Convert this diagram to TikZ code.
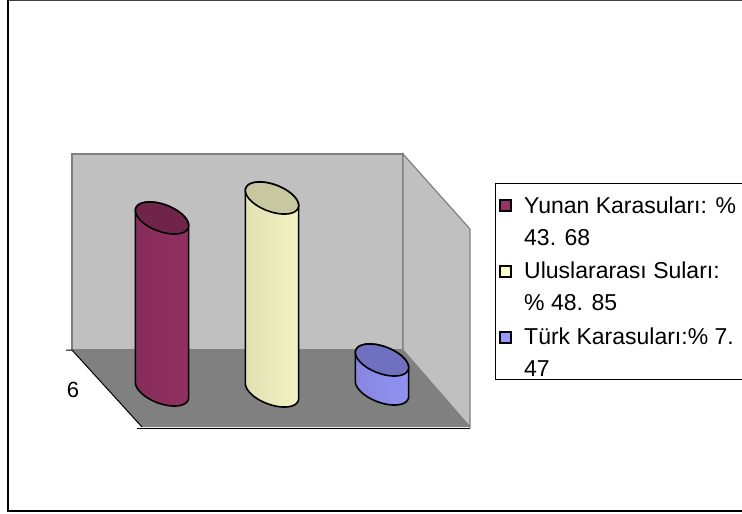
\documentclass[tikz,border=0pt]{standalone}
\usepackage{fontspec}
\setmainfont{Liberation Sans}
\usepackage{xcolor}
\usepackage{tikz}
\usetikzlibrary{arrows,shapes}

\definecolor{yunan}{RGB}{153,51,102}
\definecolor{yunanT}{RGB}{112,36,74}
\definecolor{ulus}{RGB}{255,255,204}
\definecolor{ulusT}{RGB}{200,200,160}
\definecolor{turk}{RGB}{153,153,255}
\definecolor{turkT}{RGB}{112,112,192}
\definecolor{wallgray}{RGB}{192,192,192}
\definecolor{floorgray}{RGB}{128,128,128}

\begin{document}
\begin{tikzpicture}[x=1pt, y=-1pt, every node/.style={inner sep=0pt, font=\fontsize{23}{32}\selectfont}]
	\useasboundingbox (0,0) rectangle (742,514);
	\clip (0,0) rectangle (742,514);
	\draw[black!75, line width=1.2pt] (8,0.6) -- (760,0.6);
	\draw[black, line width=1.2pt] (8,0) -- (8,511) -- (760,511);
	% walls and floor
	\filldraw[fill=wallgray, draw=floorgray, line width=1.2pt] (72,154) rectangle (403,350);
	\filldraw[fill=wallgray, draw=floorgray, line width=1.2pt] (403,154) -- (470,229) -- (470,427) -- (403,350) -- cycle;
	\fill[floorgray] (72,350) -- (403,350) -- (470,427) -- (142,427) -- cycle;
	\draw[black, line width=1pt] (66,350) -- (72,350) -- (142,427);
	\draw[black, line width=1pt] (137,428) -- (470,428);
	\draw (73,397) node[anchor=base, font=\fontsize{22}{26}\selectfont] (depth) {6};
	% cylinders
	\foreach \cx/\yb/\yt/\col in {162/390/218/yunan, 272/391/198/ulus, 382/389/360/turk}{
		\shadedraw[left color=\col!88!black, middle color=\col!85!white, right color=\col!95!black, draw=black, line width=1.6pt]
			plot[domain=169.7:-10.3, samples=40, variable=\t] ({\cx+26.2*cos(\t)-4.75*sin(\t)}, {\yb+9.86*cos(\t)+12.64*sin(\t)})
			-- plot[domain=-10.3:-190.3, samples=40, variable=\t] ({\cx+26.2*cos(\t)-4.75*sin(\t)}, {\yt+9.86*cos(\t)+12.64*sin(\t)})
			-- cycle;
		\filldraw[fill=\col T, draw=black, line width=1.6pt]
			plot[domain=0:360, samples=60, variable=\t] ({\cx+26.2*cos(\t)-4.75*sin(\t)}, {\yt+9.86*cos(\t)+12.64*sin(\t)}) -- cycle;
	}
	% legend
	\draw[black, line width=1pt] (495,183) rectangle (760,379);
	\foreach \y/\col in {200/yunan, 266/ulus, 332/turk}
	\filldraw[fill=\col, draw=black, line width=1.2pt] (500,\y) rectangle (511,\y+11);
	\draw (524,245) node[anchor=base west, align=left] (yunanleg) {Yunan Karasuları: \%\\43. 68};
	\draw (524,310) node[anchor=base west, align=left] (ulusleg) {Uluslararası Suları:\\\% 48. 85};
	\draw (524,376) node[anchor=base west, align=left] (turkleg) {Türk Karasuları:\% 7.\\47};
\end{tikzpicture}
\end{document}
